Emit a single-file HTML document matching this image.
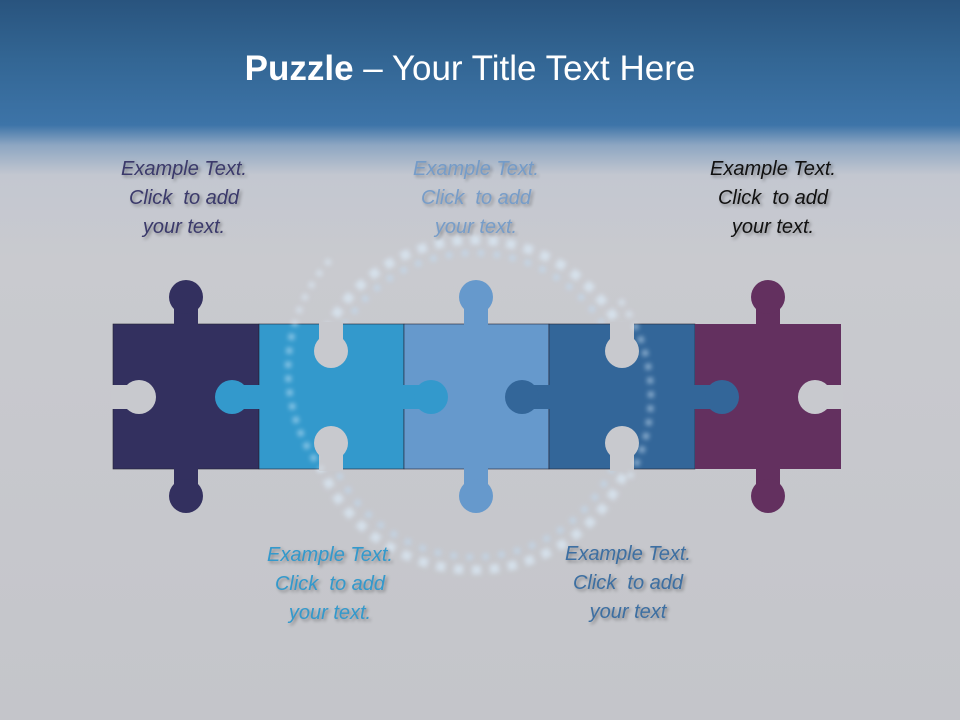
<!DOCTYPE html>
<html><head><meta charset="utf-8"><style>
html,body{margin:0;padding:0}
body{width:960px;height:720px;overflow:hidden;position:relative;font-family:"Liberation Sans",sans-serif;
background:linear-gradient(to bottom,#29547e 0px,#336694 60px,#3d74a8 125px,#8da6c2 145px,#c3c7d0 175px,#c9cacf 260px,#c4c5ca 720px);}
.t{position:absolute;left:-10px;width:960px;top:49px;text-align:center;color:#fff;font-size:35px;}
.l{position:absolute;width:220px;text-align:center;font-style:italic;font-size:20px;line-height:29px;text-shadow:2px 2px 3px rgba(0,0,0,0.35);}
svg{position:absolute;left:0;top:0}
</style></head><body>
<div class="t"><b>Puzzle</b> – Your Title Text Here</div>
<svg width="960" height="720">
<defs><filter id="g"><feGaussianBlur stdDeviation="2.5"/></filter></defs>
<circle cx="474" cy="405" r="165" fill="none" stroke="#dff1ff" stroke-width="9" stroke-dasharray="9 9" filter="url(#g)" opacity="0.6"/>
<circle cx="474" cy="405" r="152" fill="none" stroke="#bfe2ff" stroke-width="6" stroke-dasharray="6 10" filter="url(#g)" opacity="0.45"/>
<g stroke="#223" stroke-width="0.6">
<rect x="113" y="324" width="146" height="145" fill="#33305f"/>
<rect x="259" y="324" width="145" height="145" fill="#3399cc"/>
<rect x="404" y="324" width="145" height="145" fill="#6699cc"/>
<rect x="549" y="324" width="146" height="145" fill="#336699"/>
<rect x="695" y="324" width="146" height="145" fill="#63305f" stroke="none"/>
</g>
<g>
<rect x="174" y="300" width="24" height="26" fill="#33305f"/><circle cx="186" cy="297" r="17" fill="#33305f"/>
<rect x="174" y="467" width="24" height="26" fill="#33305f"/><circle cx="186" cy="496" r="17" fill="#33305f"/>
<rect x="111" y="385" width="28" height="24" fill="#c8c9ce"/><circle cx="139" cy="397" r="17" fill="#c8c9ce"/>
<rect x="235" y="385" width="26" height="24" fill="#3399cc"/><circle cx="232" cy="397" r="17" fill="#3399cc"/>
<rect x="319" y="322" width="24" height="28" fill="#c8c9ce"/><circle cx="331" cy="351" r="17" fill="#c8c9ce"/>
<rect x="319" y="443" width="24" height="28" fill="#c8c9ce"/><circle cx="331" cy="443" r="17" fill="#c8c9ce"/>
<rect x="402" y="385" width="26" height="24" fill="#3399cc"/><circle cx="431" cy="397" r="17" fill="#3399cc"/>
<rect x="464" y="300" width="24" height="26" fill="#6699cc"/><circle cx="476" cy="297" r="17" fill="#6699cc"/>
<rect x="464" y="467" width="24" height="26" fill="#6699cc"/><circle cx="476" cy="496" r="17" fill="#6699cc"/>
<rect x="525" y="385" width="26" height="24" fill="#336699"/><circle cx="522" cy="397" r="17" fill="#336699"/>
<rect x="610" y="322" width="24" height="28" fill="#c8c9ce"/><circle cx="622" cy="351" r="17" fill="#c8c9ce"/>
<rect x="610" y="443" width="24" height="28" fill="#c8c9ce"/><circle cx="622" cy="443" r="17" fill="#c8c9ce"/>
<rect x="693" y="385" width="26" height="24" fill="#336699"/><circle cx="722" cy="397" r="17" fill="#336699"/>
<rect x="756" y="300" width="24" height="26" fill="#63305f"/><circle cx="768" cy="297" r="17" fill="#63305f"/>
<rect x="756" y="467" width="24" height="26" fill="#63305f"/><circle cx="768" cy="496" r="17" fill="#63305f"/>
<rect x="815" y="385" width="28" height="24" fill="#c8c9ce"/><circle cx="815" cy="397" r="17" fill="#c8c9ce"/>
</g>
<g fill="none" stroke="#dff1ff" stroke-width="6" stroke-dasharray="6 8" filter="url(#g)" opacity="0.5">
<path d="M 330 260 A 165 165 0 0 0 322 470"/>
<path d="M 620 300 A 165 165 0 0 1 628 480"/>
</g>
</svg>
<div class="l" style="left:74px;top:155px;color:#3b3a6b">Example Text.<br>Click &nbsp;to add<br>your text.</div>
<div class="l" style="left:366px;top:155px;color:#6a96c8;opacity:0.85">Example Text.<br>Click &nbsp;to add<br>your text.</div>
<div class="l" style="left:663px;top:155px;color:#111">Example Text.<br>Click &nbsp;to add<br>your text.</div>
<div class="l" style="left:220px;top:541px;color:#3399cc">Example Text.<br>Click &nbsp;to add<br>your text.</div>
<div class="l" style="left:518px;top:540px;color:#3d6fa2">Example Text.<br>Click &nbsp;to add<br>your text</div>
</body></html>
